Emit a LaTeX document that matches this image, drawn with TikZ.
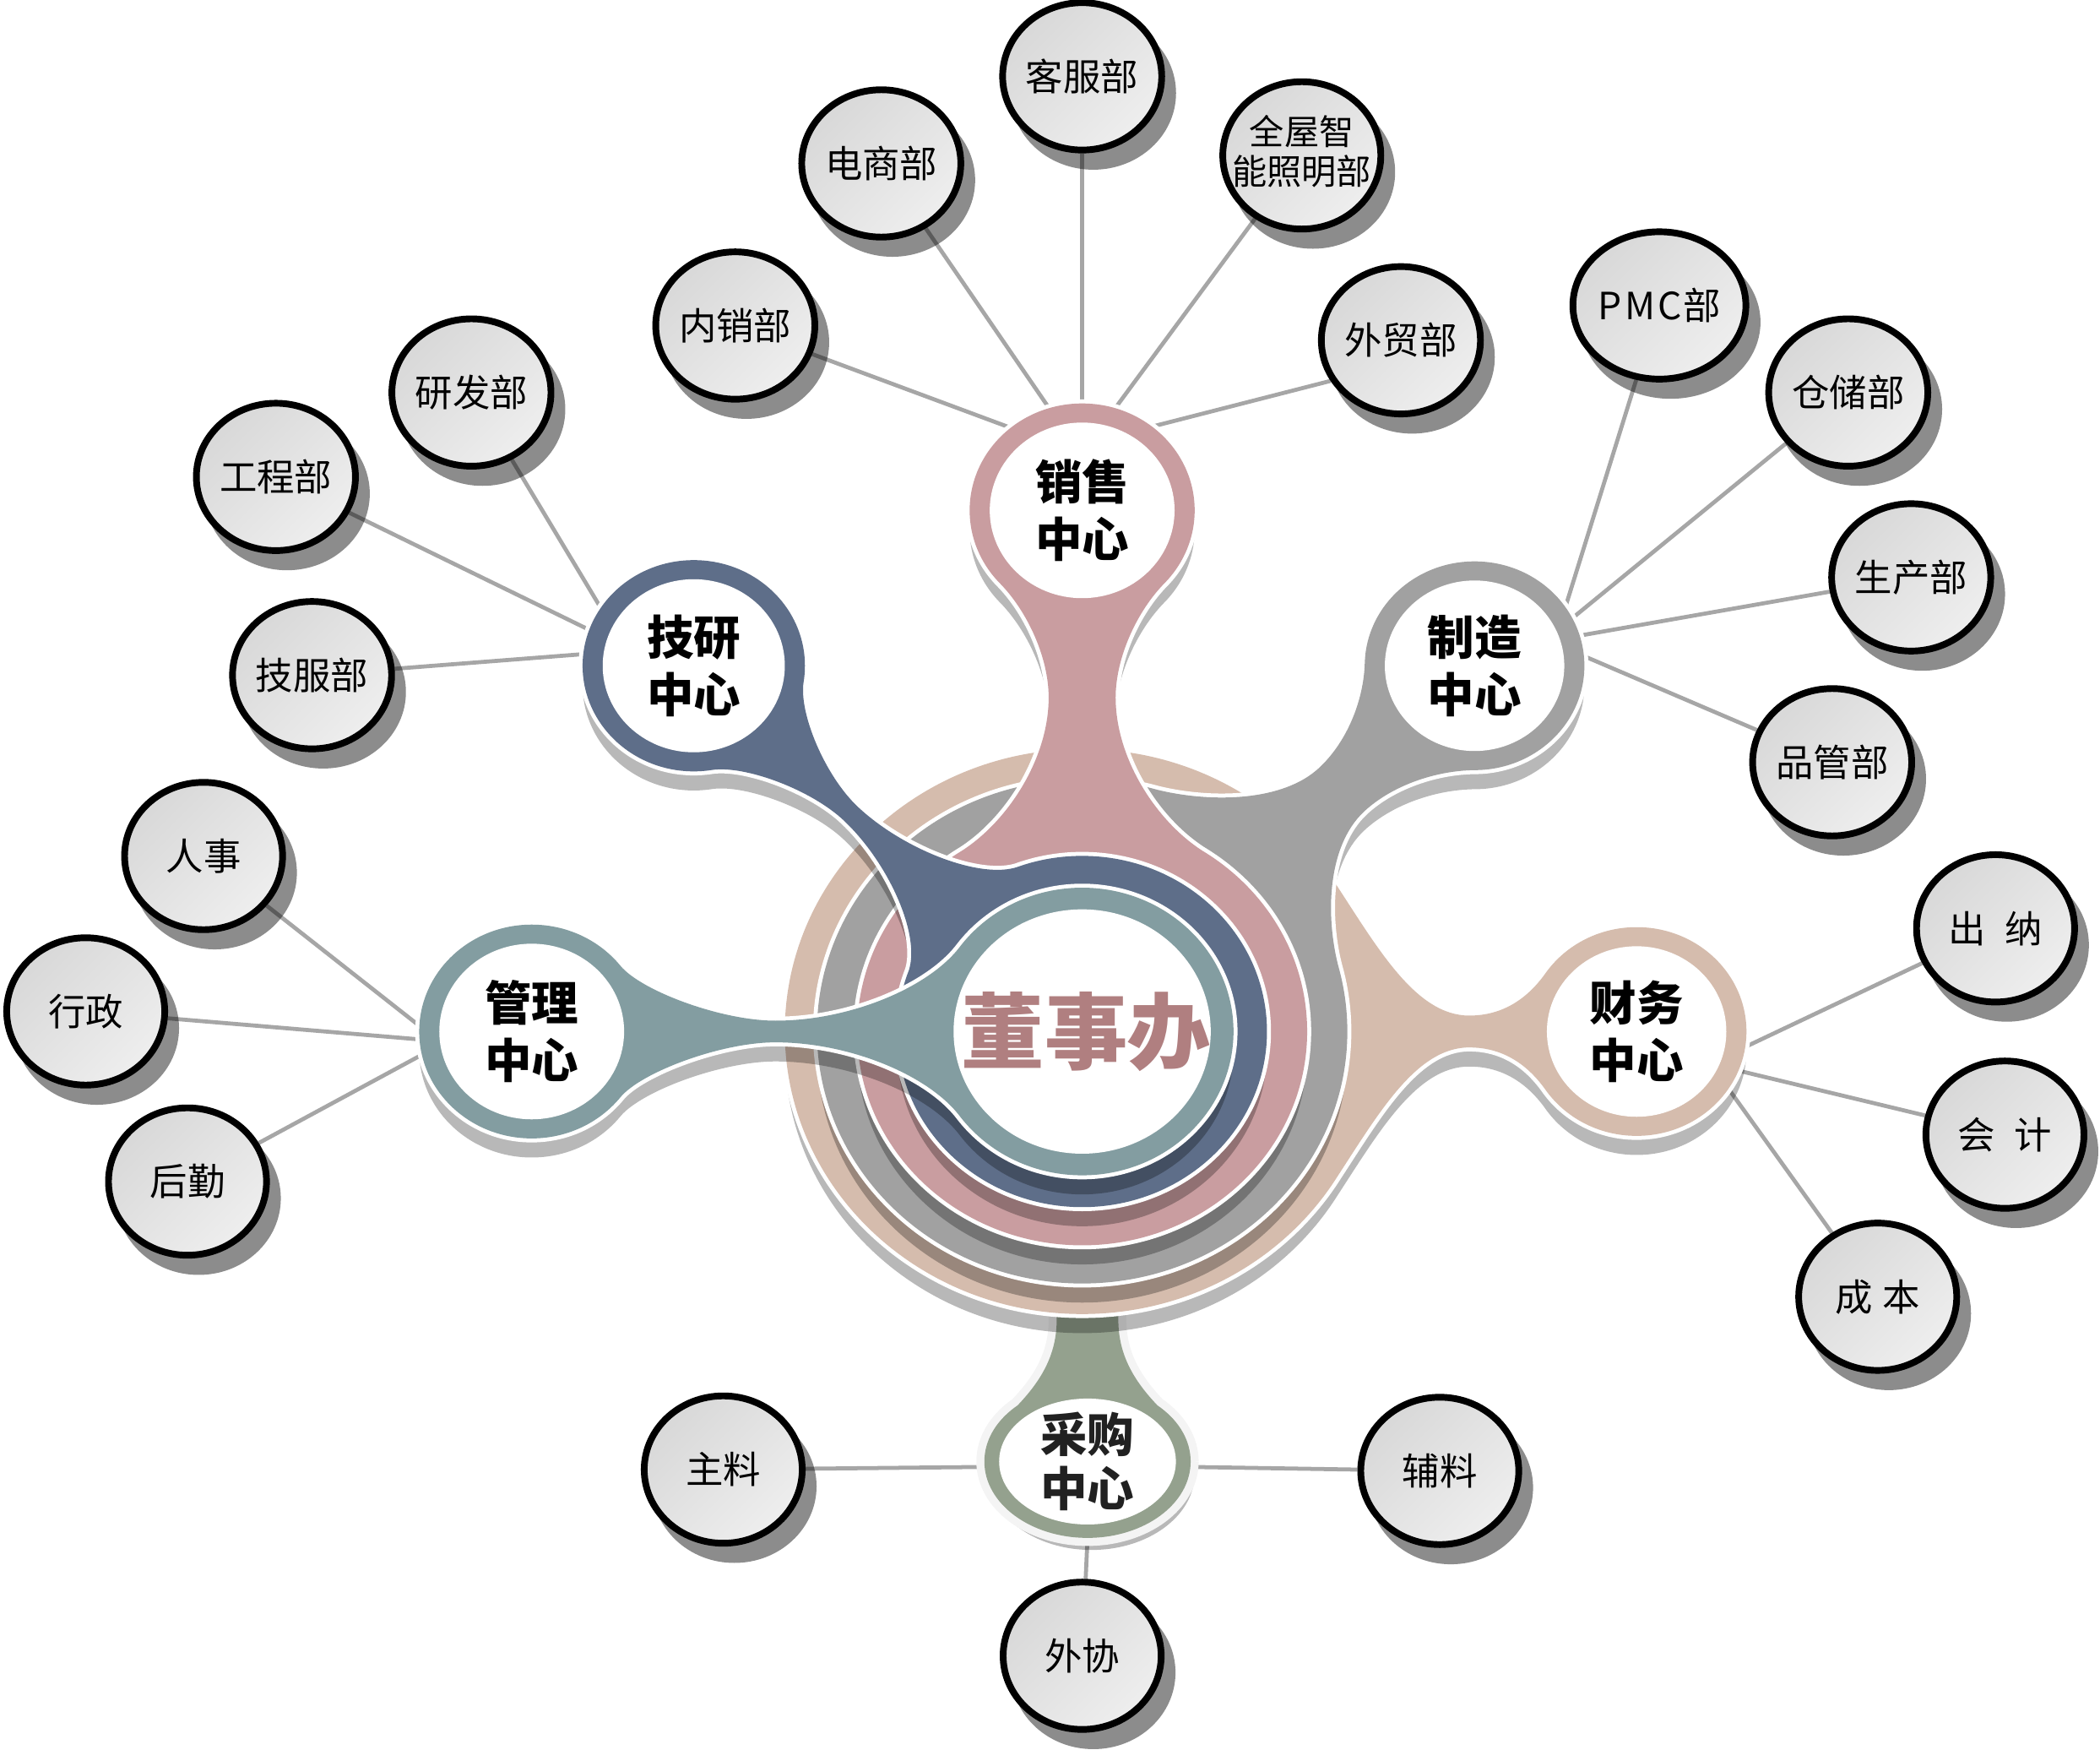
\documentclass[tikz,border=0pt]{standalone}
\usepackage{fontspec}
\setmainfont{Noto Sans CJK SC}
\usetikzlibrary{shapes.geometric,shadows}
\definecolor{cpink}{HTML}{C99DA0}
\definecolor{cblue}{HTML}{5E6E89}
\definecolor{cgrey}{HTML}{A1A1A1}
\definecolor{cteal}{HTML}{839DA1}
\definecolor{ctan}{HTML}{D5BCAD}
\definecolor{cgreen}{HTML}{94A18E}
\definecolor{cmauve}{HTML}{B07F80}
\definecolor{cline}{HTML}{A6A6A6}
\definecolor{leafa}{HTML}{D8D8D8}
\definecolor{leafb}{HTML}{EEEEEE}
\definecolor{glow}{HTML}{F4F4F4}
\pgfdeclarelayer{lines}
\pgfsetlayers{lines,main}
\newcommand\leaffont{\fontsize{28pt}{30pt}\selectfont}
\newcommand\hubfont{\fontsize{35pt}{43pt}\selectfont\bfseries}
\newcommand\sethub[4]{\def\lyhx{#1}\def\lyhy{#2}\def\lyex{#3}\def\lyey{#4}}
\newcommand\setstem[9]{\def\lyd{#1}\def\lyrh{#2}\def\lypsi{#3}\def\lynu{#4}\def\lyhw{#5}\def\lyphi{#6}\def\lyrd{#7}\def\lyka{#8}\def\lykb{#9}}
\newcommand\zpt[3]{%
 \pgfmathsetmacro\lytu{#2}\pgfmathsetmacro\lytv{#3}%
 \pgfmathsetmacro\lytx{\lyhx+\lytu*(\lyex)-\lytv*(\lyey)}%
 \pgfmathsetmacro\lyty{\lyhy+\lytu*(\lyey)+\lytv*(\lyex)}%
 \expandafter\edef\csname zq#1x\endcsname{\lytx}%
 \expandafter\edef\csname zq#1y\endcsname{\lyty}}
\newcommand\stemcalc{%
 \pgfmathsetmacro\lypx{\lyrh*cos(\lypsi)}\pgfmathsetmacro\lypy{\lyrh*sin(\lypsi)}%
 \pgfmathsetmacro\lyqx{\lyd-\lyrd*cos(\lyphi)}\pgfmathsetmacro\lyqy{\lyrd*sin(\lyphi)}%
 \zpt{a}{\lypx}{\lypy}%
 \zpt{b}{\lypx+\lyka*sin(\lypsi)}{\lypy-\lyka*cos(\lypsi)}%
 \zpt{c}{\lynu-0.35*(\lynu-\lypx)}{\lyhw}%
 \zpt{d}{\lynu}{\lyhw}%
 \zpt{e}{\lynu+0.4*(\lyqx-\lynu)}{\lyhw}%
 \zpt{f}{\lyqx-\lykb*sin(\lyphi)}{\lyqy-\lykb*cos(\lyphi)}%
 \zpt{g}{\lyqx}{\lyqy}%
 \zpt{h}{\lyd}{0}%
 \zpt{i}{\lyqx}{-\lyqy}%
 \zpt{j}{\lyqx-\lykb*sin(\lyphi)}{-\lyqy+\lykb*cos(\lyphi)}%
 \zpt{k}{\lynu+0.4*(\lyqx-\lynu)}{-\lyhw}%
 \zpt{l}{\lynu}{-\lyhw}%
 \zpt{m}{\lynu-0.35*(\lynu-\lypx)}{-\lyhw}%
 \zpt{n}{\lypx+\lyka*sin(\lypsi)}{-\lypy+\lyka*cos(\lypsi)}%
 \zpt{o}{\lypx}{-\lypy}%
 \zpt{p}{0}{0}}
\newcommand\lystem{(\zqpx,\zqpy) -- (\zqax,\zqay) .. controls (\zqbx,\zqby) and (\zqcx,\zqcy) .. (\zqdx,\zqdy) .. controls (\zqex,\zqey) and (\zqfx,\zqfy) .. (\zqgx,\zqgy) -- (\zqhx,\zqhy) -- (\zqix,\zqiy) .. controls (\zqjx,\zqjy) and (\zqkx,\zqky) .. (\zqlx,\zqly) .. controls (\zqmx,\zqmy) and (\zqnx,\zqny) .. (\zqox,\zqoy) -- cycle}
\newcommand\lyparts{(\lyrd,0) arc[start angle=0,end angle=360,radius=\lyrd pt] ({\lyhx+\lyrh},\lyhy) arc[start angle=0,end angle=360,radius=\lyrh pt] \lystem}
\newcommand\drawlayer[1]{%
 \stemcalc
 \fill[black,fill opacity=0.28,yshift=-15pt] \lyparts;
 \draw[white,line width=6pt] \lyparts;
 \fill[#1] \lyparts;
 \pgfmathsetmacro\lyrin{\lyrh-15}%
 \fill[white] ({\lyhx+\lyrin},\lyhy) arc[start angle=0,end angle=360,radius=\lyrin pt];}
\newcommand\greenparts{(889,1091) arc[start angle=0,end angle=360,x radius=77pt,y radius=57pt] (789,900) -- (789,985) .. controls (789,1012) and (777,1032) .. (756,1053) -- (812,1080) -- (868,1053) .. controls (847,1032) and (835,1012) .. (835,985) -- (835,900) -- cycle}
\begin{document}
\begin{tikzpicture}[x=1pt,y=-1pt,
 conn/.style={draw=cline,line width=3pt},
 leaf/.style={ellipse,minimum width=118pt,minimum height=110pt,inner sep=0pt,draw=black,line width=5pt,top color=leafa,bottom color=leafb,shading angle=45,drop shadow={shadow scale=1.04,shadow xshift=8pt,shadow yshift=-12pt,fill=black,opacity=0.45},font=\leaffont,align=center,text=black},
 hubtext/.style={ellipse,minimum width=168pt,minimum height=160pt,inner sep=0pt,align=center,font=\hubfont,text=black}]
\useasboundingbox (0,0) rectangle (1568,1306);
% purchasing (green) layer, behind the disks
\fill[black,fill opacity=0.28,xshift=3pt,yshift=-9pt] \greenparts;
\draw[glow,line width=12pt] \greenparts;
\fill[cgreen] \greenparts;
\fill[white] (878,1091) arc[start angle=0,end angle=360,x radius=66pt,y radius=47pt];
% central disks with stems and hub rings
\begin{scope}[shift={(808,770)},yscale=0.95]
 \sethub{414}{0}{-1}{0}\setstem{414}{82}{34}{125}{12.5}{32}{222}{30}{60}\drawlayer{ctan}
 \sethub{293}{-287.4}{-0.7139}{0.7003}\setstem{410.4}{82}{46}{139}{24}{30}{198}{30}{40}\drawlayer{cgrey}
 \sethub{0}{-409.5}{0}{1}\setstem{409.5}{84}{47}{147}{25}{33}{168}{30}{42}\drawlayer{cpink}
 \sethub{-290}{-287.4}{0.7103}{0.7039}\setstem{408.3}{83}{36}{165}{7.5}{25}{138}{25}{30}\drawlayer{cblue}
 \sethub{-411}{0}{1}{0}\setstem{411}{84}{38}{182}{8.5}{36}{113}{25}{40}\drawlayer{cteal}
 \fill[white] (96,0) arc[start angle=0,end angle=360,radius=96pt];
\end{scope}
% hub labels
\node[text=cmauve,font=\fontsize{62pt}{64pt}\selectfont\bfseries] (dsb) at (811,770) {董事办};
\node[hubtext] (xs) at (808,381) {销售\\中心};
\node[hubtext,minimum width=166pt,minimum height=158pt] (jy) at (518,497) {技研\\中心};
\node[hubtext,minimum width=164pt,minimum height=156pt] (zz) at (1101,497) {制造\\中心};
\node[hubtext] (gl) at (397,770) {管理\\中心};
\node[hubtext,minimum width=164pt,minimum height=156pt] (cw) at (1222,770) {财务\\中心};
\node[hubtext,minimum width=154pt,minimum height=114pt,text=black!87,font=\fontsize{35pt}{40pt}\selectfont\bfseries] (cg) at (812,1091) {采购\\中心};
% leaves
\node[leaf] (kefu) at (808,57) {客服部};
\node[leaf] (dianshang) at (658,122) {电商部};
\node[leaf,font=\fontsize{26pt}{27pt}\selectfont] (quanwu) at (972,116) {\makebox[0pt]{\begin{tabular}{@{}c@{}}全屋智\\能照明部\end{tabular}}};
\node[leaf] (neixiao) at (549,243) {内销部};
\node[leaf] (waimao) at (1046,254) {外贸部};
\node[leaf] (pmc) at (1239,228) {P\hspace{2pt}M\hspace{2pt}C\hspace{1pt}部};
\node[leaf] (cangchu) at (1380,293) {仓储部};
\node[leaf] (shengchan) at (1427,431) {生产部};
\node[leaf] (pinguan) at (1368,569) {品管部};
\node[leaf] (yanfa) at (352,293) {研发部};
\node[leaf] (gongcheng) at (206,356) {工程部};
\node[leaf] (jifu) at (233,504) {技服部};
\node[leaf] (renshi) at (152,639) {人事};
\node[leaf] (xingzheng) at (64,755) {行政};
\node[leaf] (houqin) at (140,882) {后勤};
\node[leaf] (chuna) at (1490,693) {出\hspace{14pt}纳};
\node[leaf] (kuaiji) at (1497,847) {会\hspace{14pt}计};
\node[leaf] (chengben) at (1402,968) {成\hspace{7pt}本};
\node[leaf] (zhuliao) at (540,1097) {主料};
\node[leaf] (fuliao) at (1075,1098) {辅料};
\node[leaf] (waixie) at (808,1236) {外协};
% connectors
\begin{pgfonlayer}{lines}
\draw[conn] (xs.131) -- (neixiao);
\draw[conn] (xs.108) -- (dianshang);
\draw[conn] (xs.90) -- (kefu);
\draw[conn] (xs.72) -- (quanwu);
\draw[conn] (xs.50) -- (waimao.210);
\draw[conn] (jy.148) -- (yanfa);
\draw[conn] (jy.161) -- (gongcheng);
\draw[conn] (jy.174) -- (jifu);
\draw[conn] (zz.33) -- (pmc);
\draw[conn] (zz.26) -- (cangchu);
\draw[conn] (zz.16) -- (shengchan);
\draw[conn] (zz.5) -- (pinguan);
\draw[conn] (gl.177) -- (renshi);
\draw[conn] (gl.184) -- (xingzheng);
\draw[conn] (gl.192) -- (houqin);
\draw[conn] (cw.352) -- (chuna);
\draw[conn] (cw.339) -- (kuaiji);
\draw[conn] (cw.328) -- (chengben);
\draw[conn] (cg.183) -- (zhuliao);
\draw[conn] (cg.357) -- (fuliao);
\draw[conn] (cg.270) -- (waixie);
\end{pgfonlayer}
\end{tikzpicture}
\end{document}
